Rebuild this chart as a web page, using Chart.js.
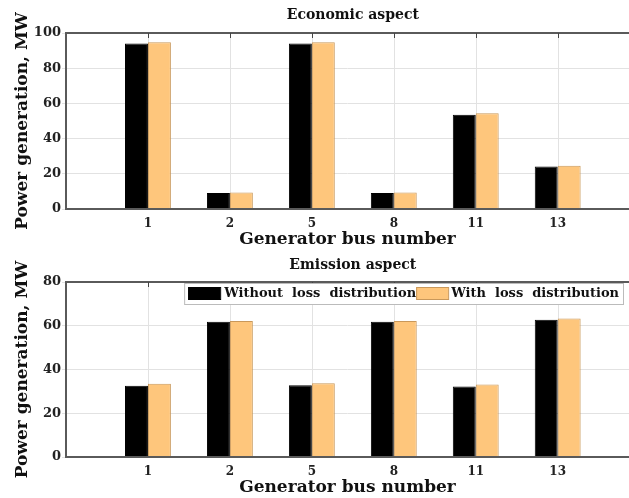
<!DOCTYPE html>
<html lang="en">
<head>
<meta charset="UTF-8">
<title>Power generation</title>
<script src="https://cdn.jsdelivr.net/npm/chart.js"></script>
<style>
  html, body { margin: 0; padding: 0; background: #fff; overflow: hidden; }
  #wrap { position: relative; width: 629px; height: 498px; overflow: hidden; }
  .box { position: absolute; left: 0; width: 629px; }
</style>
</head>
<body>
<div id="wrap">
  <div class="box" style="top:0;height:250px"><canvas id="econ" width="629" height="250"></canvas></div>
  <div class="box" style="top:250px;height:248px"><canvas id="emis" width="629" height="248"></canvas></div>
</div>
<script>
// generator buses (tick labels)
const busLabels = ['1', '2', '5', '8', '11', '13'];
const seriesNames = ['Without  loss  distribution', 'With  loss  distribution'];

// economic aspect, MW
const econWithout = [94.1, 9.1, 94.1, 9.1, 53.6, 24.2];
const econWith = [94.7, 9.4, 94.7, 9.4, 54.4, 24.6];

// emission aspect, MW
const emisWithout = [32.6, 61.8, 32.8, 61.8, 32.2, 62.8];
const emisWith = [33.5, 62.2, 33.7, 62.2, 33.1, 63.3];

const FONT = "'DejaVu Serif', serif";
// the original figure is cropped on the right, so the x range stops short of 7
const X_MAX = 6.87;

function toPoints(vals) {
    return vals.map((v, i) => ({ x: i + 1, y: v }));
}

// vertical grid lines at the bus positions, under the bars
const vgrid = {
    id: 'vgrid',
    beforeDatasetsDraw(chart) {
        const ctx = chart.ctx;
        const a = chart.chartArea;
        const xs = chart.scales.x;
        ctx.save();
        ctx.strokeStyle = '#e2e2e2';
        ctx.lineWidth = 1;
        xs.ticks.forEach(t => {
            const px = Math.round(xs.getPixelForValue(t.value)) + 0.5;
            ctx.beginPath();
            ctx.moveTo(px, a.top);
            ctx.lineTo(px, a.bottom);
            ctx.stroke();
        });
        ctx.restore();
    }
};

// frame, title and (optional) legend drawn around the plot area
const decor = {
    id: 'decor',
    afterDraw(chart, args, opts) {
        const ctx = chart.ctx;
        const a = chart.chartArea;
        ctx.save();
        ctx.strokeStyle = '#5a5a5a';
        ctx.lineWidth = 2;
        ctx.beginPath();
        ctx.moveTo(chart.width + 5, a.top);
        ctx.lineTo(a.left, a.top);
        ctx.lineTo(a.left, a.bottom);
        ctx.lineTo(chart.width + 5, a.bottom);
        ctx.stroke();

        // small inward ticks on the top edge
        ctx.lineWidth = 1;
        ctx.strokeStyle = '#444';
        chart.scales.x.ticks.forEach(t => {
            const px = Math.round(chart.scales.x.getPixelForValue(t.value)) + 0.5;
            ctx.beginPath();
            ctx.moveTo(px, a.top);
            ctx.lineTo(px, a.top + 5);
            ctx.stroke();
        });

        ctx.fillStyle = '#111';
        ctx.font = 'bold 14px ' + FONT;
        ctx.textAlign = 'center';
        ctx.textBaseline = 'middle';
        const midX = chart.scales.x.getPixelForValue(3.5);
        ctx.fillText(opts.title, midX, opts.titleY);

        if (opts.legend) {
            ctx.font = 'bold 13px ' + FONT;
            const ds = chart.data.datasets;
            const w0 = ctx.measureText(ds[0].label).width;
            const w1 = ctx.measureText(ds[1].label).width;
            const total = 4 + 32 + 4 + w0 + 32 + 3 + w1 + 4;
            const right = 623;
            const left = right - total;
            const top = a.top + 1;
            ctx.fillStyle = '#fff';
            ctx.fillRect(left, top, total, 21);
            ctx.strokeStyle = '#bbb';
            ctx.lineWidth = 1;
            ctx.strokeRect(left + 0.5, top + 0.5, total, 21);
            let x = left + 4;
            ctx.textAlign = 'left';
            ds.forEach((d, i) => {
                ctx.fillStyle = d.backgroundColor;
                ctx.fillRect(x, top + 4, 32, 13);
                ctx.strokeStyle = d.borderColor;
                ctx.strokeRect(x + 0.5, top + 4.5, 32, 12);
                x += i === 0 ? 36 : 35;
                ctx.fillStyle = '#111';
                ctx.fillText(d.label, x, top + 11);
                x += i === 0 ? w0 : w1;
            });
        }
        ctx.restore();
    }
};

function makeChart(id, without, withLoss, yMax, title, legend) {
    const ctx = document.getElementById(id).getContext('2d');
    return new Chart(ctx, {
        type: 'bar',
        data: {
            datasets: [{
                label: seriesNames[0],
                data: toPoints(without),
                backgroundColor: '#000000',
                borderColor: '#000000',
                borderWidth: 1
            }, {
                label: seriesNames[1],
                data: toPoints(withLoss),
                backgroundColor: '#fec67c',
                borderColor: '#c9985a',
                borderWidth: 1
            }]
        },
        options: {
            responsive: false,
            animation: false,
            layout: { padding: { top: id === 'econ' ? 33 : 32, right: 0, left: 12, bottom: 0 } },
            categoryPercentage: 0.56,
            barPercentage: 1,
            plugins: {
                legend: { display: false },
                tooltip: { enabled: false },
                decor: { title: title, titleY: 15, legend: legend }
            },
            scales: {
                x: {
                    type: 'linear',
                    offset: false,
                    min: 0,
                    max: X_MAX,
                    afterBuildTicks: (scale) => {
                        scale.ticks = busLabels.map((_, i) => ({ value: i + 1 }));
                    },
                    afterFit: (scale) => { scale.height = 41; },
                    border: { display: false },
                    grid: { display: false, drawTicks: false },
                    ticks: {
                        callback: (v) => busLabels[v - 1],
                        color: '#222',
                        padding: 8,
                        maxRotation: 0,
                        font: { family: FONT, size: 12, weight: 'bold' }
                    },
                    title: {
                        display: true,
                        text: 'Generator bus number',
                        color: '#111',
                        padding: { top: 0, bottom: 0 },
                        font: { family: FONT, size: 17, weight: 'bold' }
                    }
                },
                y: {
                    min: 0,
                    max: yMax,
                    afterFit: (scale) => { scale.width = 54; },
                    border: { display: false },
                    grid: { color: '#e2e2e2', tickLength: 4 },
                    ticks: {
                        stepSize: 20,
                        color: '#222',
                        padding: 1,
                        font: { family: FONT, size: 13, weight: 'bold' }
                    },
                    title: {
                        display: true,
                        text: 'Power generation, MW',
                        color: '#111',
                        padding: { top: 0, bottom: 0 },
                        font: { family: FONT, size: 17, weight: 'bold' }
                    }
                }
            }
        },
        plugins: [vgrid, decor]
    });
}

makeChart('econ', econWithout, econWith, 100, 'Economic aspect', false);
makeChart('emis', emisWithout, emisWith, 80, 'Emission aspect', true);
</script>
</body>
</html>
